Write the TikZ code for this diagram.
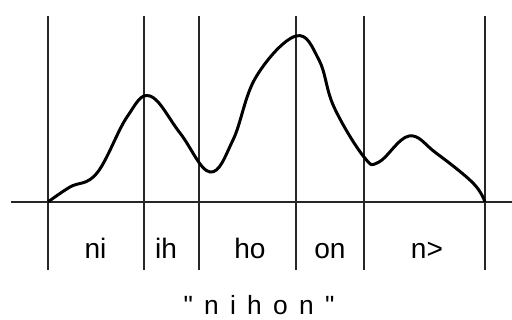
\documentclass[tikz,border=0pt]{standalone}
\usepackage{fontspec}
\setmainfont{Liberation Sans}
\begin{document}
\begin{tikzpicture}[x=0.02cm, y=-0.02cm,
  seg/.style={font=\fontsize{16pt}{18pt}\selectfont, anchor=base},
  bound/.style={line width=1.1pt, black!85},
  axis/.style={line width=1.3pt, black!85},
  wave/.style={line width=1.7pt, black}]
  \useasboundingbox (0,0) rectangle (512,320);
  % segment boundaries
  \foreach \x/\n in {48/b0, 144/b1, 199/b2, 296/b3, 364/b4, 485/b5} {
    \coordinate (\n top) at (\x,16);
    \coordinate (\n bot) at (\x,270);
    \draw[bound] (\n top) -- (\n bot);
  }
  \coordinate (axl) at (11,202);
  \coordinate (axr) at (512,202);
  \draw[axis] (axl) -- (axr);
  % waveform
  \draw[wave] plot[smooth, tension=0.65] coordinates {
    (48,202) (70,187) (97,173) (127,117) (150,96) (180,133) (210,172)
    (233,140) (256,77) (296,36) (319,60) (334,107) (364,157) (379,162)
    (409,136) (436,153) (473,183) (485,202)};
  % labels
  \node[seg] (ni) at (95.5,259) {ni};
  \node[seg] (ih) at (166,259) {ih};
  \node[seg] (ho) at (250,259) {ho};
  \node[seg] (on) at (330,259) {on};
  \node[seg] (nn) at (427,259) {n>};
  \node[font=\fontsize{15pt}{17pt}\selectfont\addfontfeature{LetterSpace=15}, anchor=base] (word) at (259,315) {\textquotedbl{} n i h o n \textquotedbl};
\end{tikzpicture}
\end{document}
